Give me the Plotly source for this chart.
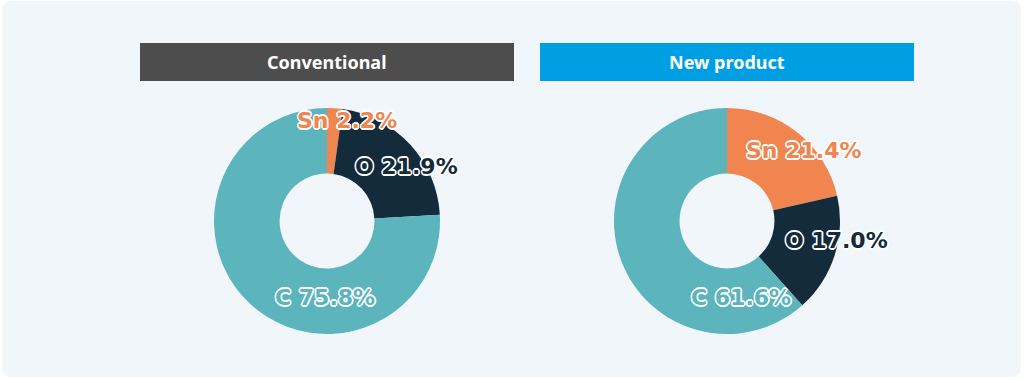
import plotly.graph_objects as go

# ---- data ----
elements = ["Sn", "O", "C"]
conventional = [2.2, 21.9, 75.8]
new_product = [21.4, 17.0, 61.6]
titles = ["Conventional", "New product"]

# ---- style ----
W, H = 1024, 379
slice_colors = ["#f0854f", "#132b3a", "#5cb4bd"]
header_colors = ["#4d4d4d", "#009fe3"]
panel_color = "#f1f6fa"
centers_px = [(327, 221), (727, 221)]
radius_px = 113
header_px = [(140, 514), (540, 914)]
header_y = (43, 81)
# label offsets (px) from pie centre, per chart, per slice
label_offsets = [
    [(20, -101), (79, -55), (-2, 76)],
    [(77, -71), (109, 19), (14, 76)],
]

outline = ", ".join(
    f"white {dx}px {dy}px 0px"
    for dx, dy in [(1.6, 0), (-1.6, 0), (0, 1.6), (0, -1.6), (1.1, 1.1), (-1.1, 1.1), (1.1, -1.1), (-1.1, -1.1)]
)

fig = go.Figure()
annotations = []
shapes = []

# background panel (rounded)
x0, y0, x1, y1, r = 2, 1, 1021, 377, 10
path = (f"M {x0+r},{y0} L {x1-r},{y0} Q {x1},{y0} {x1},{y0+r} L {x1},{y1-r} Q {x1},{y1} {x1-r},{y1} "
        f"L {x0+r},{y1} Q {x0},{y1} {x0},{y1-r} L {x0},{y0+r} Q {x0},{y0} {x0+r},{y0} Z")
shapes.append(dict(type="path", path=path, xref="x", yref="y", fillcolor=panel_color,
                   line=dict(width=0), layer="below"))

for i, (vals, title) in enumerate(zip([conventional, new_product], titles)):
    cx, cy = centers_px[i]
    fig.add_trace(go.Pie(
        labels=elements, values=vals, hole=0.42, sort=False, direction="clockwise",
        rotation=0, marker=dict(colors=slice_colors, line=dict(width=0)),
        textinfo="none", hoverinfo="label+percent", showlegend=False,
        domain=dict(x=[(cx - radius_px) / W, (cx + radius_px) / W],
                    y=[(H - cy - radius_px) / H, (H - cy + radius_px) / H]),
    ))
    hx0, hx1 = header_px[i]
    shapes.append(dict(type="rect", xref="x", yref="y", x0=hx0, x1=hx1, y0=header_y[0], y1=header_y[1],
                       fillcolor=header_colors[i], line=dict(width=0)))
    annotations.append(dict(text=f"<b>{title}</b>", xref="x", yref="y", x=(hx0 + hx1) / 2,
                            y=(header_y[0] + header_y[1]) / 2, showarrow=False,
                            font=dict(family="Noto Sans", size=18, color="white")))
    for j, (el, v) in enumerate(zip(elements, vals)):
        dx, dy = label_offsets[i][j]
        annotations.append(dict(text=f"<b>{el} {v:.1f}%</b>", xref="x", yref="y",
                                x=cx + dx, y=cy + dy, showarrow=False,
                                font=dict(family="DejaVu Sans", size=22, color=slice_colors[j],
                                          shadow=outline)))

fig.update_layout(
    width=W, height=H, margin=dict(l=0, r=0, t=0, b=0),
    paper_bgcolor="white", plot_bgcolor="rgba(0,0,0,0)",
    xaxis=dict(range=[0, W], visible=False, fixedrange=True),
    yaxis=dict(range=[H, 0], visible=False, fixedrange=True),
    shapes=shapes, annotations=annotations,
)
fig.write_html("out.html", config={"displayModeBar": False},
               post_script="document.body.style.margin='0';")
